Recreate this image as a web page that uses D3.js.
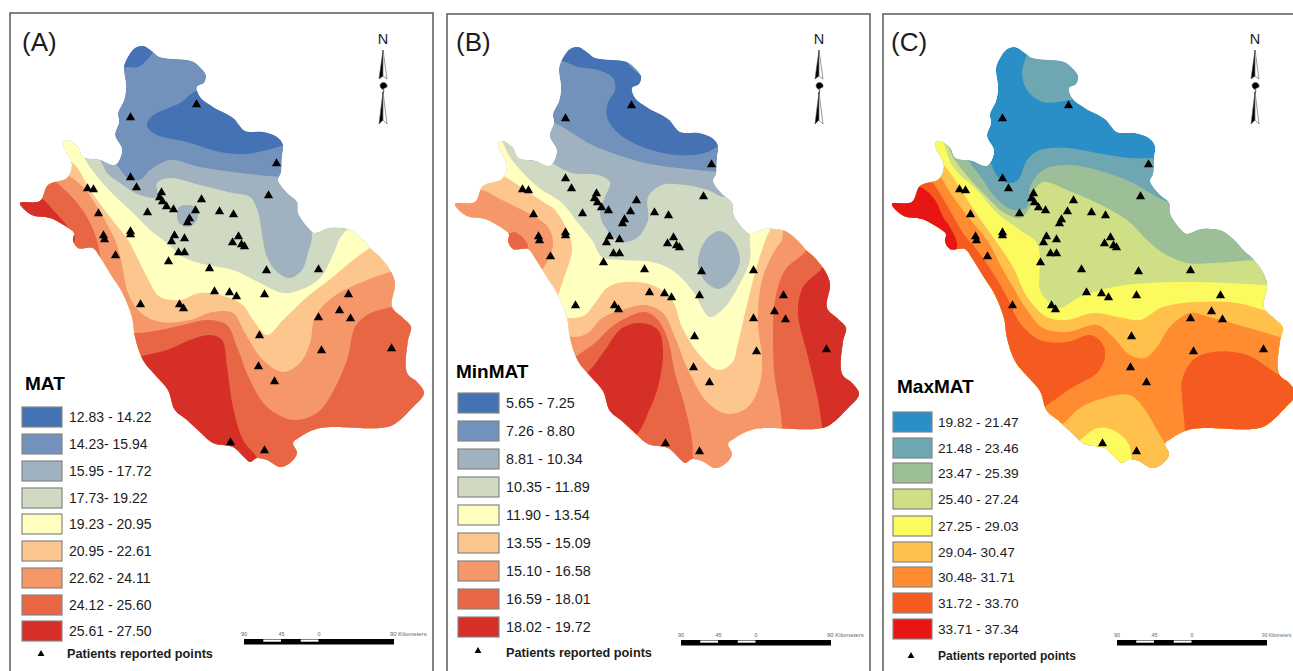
<!DOCTYPE html>
<html><head><meta charset="utf-8">
<script src="https://cdnjs.cloudflare.com/ajax/libs/d3/7.8.5/d3.min.js"></script>
<style>html,body{margin:0;padding:0;background:#fff}svg{display:block;font-family:"Liberation Sans",Arial,sans-serif}</style>
</head><body><svg id="c" width="1293" height="671"></svg>
<script>
const panelNames=["(A)","(B)","(C)"];
const legendTitles=["MAT","MinMAT","MaxMAT"];
const patientLabel="Patients reported points";
const labelsA=["12.83 - 14.22","14.23- 15.94","15.95 - 17.72","17.73- 19.22","19.23 - 20.95","20.95 - 22.61","22.62 - 24.11","24.12 - 25.60","25.61 - 27.50"];
const labelsB=["5.65 - 7.25","7.26 - 8.80","8.81 - 10.34","10.35 - 11.89","11.90 - 13.54","13.55 - 15.09","15.10 - 16.58","16.59 - 18.01","18.02 - 19.72"];
const labelsC=["19.82 - 21.47","21.48 - 23.46","23.47 - 25.39","25.40 - 27.24","27.25 - 29.03","29.04- 30.47","30.48- 31.71","31.72 - 33.70","33.71 - 37.34"];
const coloursAB=["#4472b5","#7392bb","#a0b2bf","#d0d9c2","#ffffc0","#fdc68f","#f59768","#e96645","#d62f27"];
const coloursC=["#2a8fc6","#6ea7b2","#9dbf98","#cfdf85","#fbfb60","#ffc04c","#ff8c30","#f55a20","#e81515"];
const scaleTicks=["90","45","0","90 Kilometers"];

const outline=[[143,46],[153,52],[160,57],[192,61],[200,67],[206,75],[204,83],[197,87],[200,97],[213,107],[233,118],[245,131],[263,132],[277,137],[283,145],[282,157],[281,173],[278,180],[287,193],[297,202],[298,213],[310,230],[315,233],[330,228],[350,230],[363,240],[372,250],[380,257],[390,270],[395,283],[392,307],[403,318],[411,327],[408,340],[407,373],[417,382],[424,393],[413,407],[393,425],[380,428],[320,428],[300,437],[293,443],[297,453],[290,463],[280,467],[267,460],[257,458],[250,462],[245,458],[233,447],[213,443],[200,432],[187,420],[175,410],[168,390],[157,377],[143,360],[135,337],[132,317],[122,292],[113,278],[100,257],[93,248],[78,248],[73,240],[74,233],[67,227],[50,218],[32,215],[20,203],[40,201],[48,185],[67,178],[72,165],[63,143],[67,140],[78,147],[83,157],[100,160],[115,165],[122,150],[115,135],[119,122],[118,113],[124,100],[126,87],[124,67],[128,57],[135,48]];

const patientPoints=[[196,104],[130,117],[276,163],[130,177],[136,187],[87,188],[93,189],[161,192],[159,197],[162,201],[166,206],[173,209],[201,199],[195,210],[219,211],[233,214],[268,195],[147,212],[98,213],[189,218],[187,222],[103,235],[104,239],[130,231],[130,234],[174,235],[171,241],[184,238],[238,236],[232,242],[241,244],[244,246],[115,255],[178,252],[184,252],[168,261],[209,268],[266,270],[318,269],[214,291],[229,292],[236,296],[264,294],[348,294],[339,310],[350,318],[318,317],[140,304],[179,304],[183,308],[259,335],[321,350],[391,348],[258,366],[274,381],[230,442],[264,450]];

// Panel A contour zones, back to front
const aKnob=[[110,68],[128,67],[138,67],[147,60],[153,52],[165,30],[115,25]];
const aBlob=[[147,126],[150,118],[157,113],[180,103],[197,91],[210,98],[235,112],[250,122],[295,130],[298,148],[283,146],[267,150],[247,154],[220,152],[187,142],[157,135]];
const aC3=[[0,120],[100,150],[115,163],[128,178],[140,180],[150,170],[170,160],[200,167],[233,172],[280,177],[320,178],[440,300],[440,490],[60,490],[0,300]];
const aC4=[[0,120],[83,145],[100,160],[107,173],[120,183],[140,195],[157,197],[157,183],[170,178],[200,185],[233,193],[250,197],[258,212],[263,240],[267,257],[277,272],[290,278],[302,270],[308,253],[312,237],[312,222],[330,215],[440,230],[440,490],[60,490],[0,300]];
const aBubble=[[187,205],[195,207],[198,215],[195,223],[187,227],[179,223],[177,215],[179,207]];
const aC5=[[20,140],[60,125],[80,140],[84,157],[100,180],[117,198],[133,213],[150,230],[167,243],[183,257],[207,265],[233,270],[260,283],[283,293],[300,290],[320,278],[335,250],[340,238],[352,226],[375,215],[440,230],[440,490],[60,490],[0,300]];
const aC6=[[0,165],[50,155],[73,163],[90,190],[110,217],[128,240],[137,257],[147,277],[160,297],[180,300],[200,293],[227,297],[243,305],[253,320],[267,335],[283,320],[307,297],[333,277],[353,260],[370,248],[385,240],[440,240],[440,490],[60,490],[0,300]];
const aC7=[[0,170],[40,165],[62,172],[83,187],[103,217],[117,245],[123,270],[128,293],[140,312],[160,322],[190,320],[213,312],[233,313],[245,333],[263,360],[283,372],[300,363],[310,343],[315,317],[333,297],[367,280],[390,272],[440,260],[440,490],[60,490],[0,300]];
const aC8=[[0,175],[30,170],[50,178],[72,197],[87,217],[97,240],[100,255],[105,290],[125,330],[137,333],[160,330],[183,325],[207,320],[227,325],[237,347],[250,380],[267,407],[293,420],[317,413],[330,397],[347,360],[355,327],[367,315],[392,307],[440,300],[440,490],[60,490],[0,300]];
const aC9w=[[5,195],[42,199],[53,210],[68,227],[75,240],[60,255],[5,225]];
const aC9s=[[120,362],[142,356],[167,350],[190,340],[210,335],[222,340],[227,367],[233,407],[243,440],[257,458],[262,480],[200,480],[120,410]];

// Panel B contour zones
const bC1=[[100,50],[131,61],[143,66],[163,69],[178,77],[180,89],[173,102],[172,116],[183,132],[210,147],[243,154],[270,152],[285,144],[310,130],[200,70],[165,25],[110,30]];
const bC3=[[90,115],[120,122],[137,132],[157,144],[183,154],[210,162],[243,167],[283,171],[320,175],[440,300],[440,490],[60,490],[0,300],[0,120]];
const bC4=[[0,120],[100,150],[117,162],[137,172],[163,174],[175,181],[170,196],[165,212],[170,226],[187,241],[203,236],[213,219],[213,196],[227,184],[250,184],[273,189],[288,196],[320,195],[440,230],[440,490],[60,490],[0,300]];
const bEll=[[284,230],[297,238],[305,259],[298,277],[284,288],[270,280],[263,262],[270,240]];
const bC5=[[10,130],[60,125],[68,142],[77,159],[103,186],[127,202],[143,222],[157,239],[167,256],[187,259],[217,261],[237,269],[257,289],[275,316],[290,306],[303,286],[315,259],[315,235],[320,215],[400,215],[440,260],[440,490],[60,490],[0,300]];
const bC6=[[0,170],[50,165],[72,177],[90,189],[110,202],[120,209],[135,236],[137,250],[135,259],[125,289],[120,310],[133,317],[150,314],[160,302],[173,286],[190,281],[217,284],[237,299],[247,326],[263,352],[283,369],[297,362],[303,342],[310,312],[320,272],[327,249],[335,229],[350,210],[440,230],[440,490],[60,490],[0,300]];
const bC7=[[0,185],[47,189],[67,199],[93,212],[113,226],[118,242],[113,259],[105,275],[115,325],[137,336],[153,332],[167,317],[187,309],[210,304],[228,312],[240,336],[253,369],[273,402],[293,413],[313,406],[325,382],[327,356],[323,322],[327,279],[340,249],[347,239],[350,222],[370,215],[440,240],[440,490],[60,490],[0,300]];
const bC8w=[[60,232],[75,232],[80,231],[90,239],[93,247],[87,253],[70,262]];
const bC8s=[[110,375],[143,354],[160,342],[173,329],[187,319],[210,311],[223,319],[233,339],[240,372],[250,406],[257,439],[258,459],[260,490],[150,490]];
const bC8e=[[347,450],[347,427],[345,406],[340,379],[338,339],[340,299],[350,269],[372,247],[365,220],[440,250],[440,450]];
const bC9s=[[130,385],[153,371],[170,349],[187,327],[207,322],[223,329],[228,349],[223,386],[213,412],[203,432],[180,450],[130,420]];
const bC9e=[[387,450],[387,427],[383,399],[373,356],[363,312],[368,286],[387,267],[395,250],[440,280],[440,450]];

// Panel C contour zones
const cC2n=[[157,30],[155,52],[150,72],[155,89],[171,101],[198,99],[240,90],[240,40]];
const cC2=[[0,120],[100,135],[118,161],[126,176],[136,182],[146,179],[155,159],[168,149],[195,147],[225,152],[258,157],[283,157],[320,157],[440,300],[440,490],[60,490],[0,300]];
const cC3=[[0,120],[85,140],[96,159],[111,179],[123,196],[141,209],[155,206],[158,186],[171,169],[198,164],[235,172],[261,182],[285,196],[298,202],[320,210],[440,250],[440,490],[60,490],[0,300]];
const cC4=[[0,120],[70,135],[81,156],[96,176],[115,196],[131,211],[148,217],[158,206],[161,192],[171,181],[195,189],[225,202],[255,219],[275,239],[291,252],[315,262],[341,262],[383,259],[440,255],[440,490],[60,490],[0,300]];
const cC5=[[20,130],[60,125],[71,141],[81,166],[105,189],[125,212],[148,229],[165,242],[168,259],[168,289],[178,302],[188,307],[208,296],[241,286],[275,282],[328,281],[395,284],[440,285],[440,490],[60,490],[0,300]];
const cC6=[[0,165],[60,155],[76,169],[91,192],[111,222],[123,239],[141,266],[155,296],[175,316],[195,319],[221,312],[251,317],[268,319],[291,306],[325,301],[365,302],[408,314],[440,320],[440,490],[60,490],[0,300]];
const cC7=[[0,170],[50,165],[65,172],[81,196],[101,222],[115,239],[131,269],[141,286],[155,309],[171,327],[195,331],[225,324],[241,336],[258,354],[273,357],[285,346],[298,326],[318,312],[341,317],[408,336],[440,345],[440,490],[60,490],[0,300]];
const cC6s=[[165,445],[193,421],[208,407],[235,396],[258,394],[271,406],[285,429],[296,449],[310,490],[180,490]];
const cC5s=[[185,455],[208,439],[225,427],[241,429],[256,442],[260,459],[265,490],[200,490]];
const cC8w=[[0,175],[40,170],[58,179],[76,206],[91,232],[105,249],[121,272],[135,296],[148,322],[168,339],[195,341],[218,334],[230,342],[233,356],[225,372],[201,386],[178,402],[150,420],[80,400]];
const cC8e=[[313,450],[313,429],[310,396],[310,379],[321,359],[341,351],[375,354],[408,374],[445,385],[445,440]];
const cC9=[[5,185],[48,186],[63,199],[71,216],[78,226],[85,246],[70,262],[5,225]];

const panels=[
 {name:panelNames[0],title:legendTitles[0],labels:labelsA,colours:coloursAB,base:1,
  zones:[[0,aKnob],[0,aBlob],[2,aC3],[3,aC4],[2,aBubble],[4,aC5],[5,aC6],[6,aC7],[7,aC8],[8,aC9w],[8,aC9s]],
  dx:0,dy:0,frame:[10,433,13],labelX:22,titleX:25,titleY:390,titleSize:19,swX:22,swW:40,swTops:[407,434,461,488,514,541,568,595,621],txtX:69,txtSize:14,patX:67,patY:658,patSize:12.7,patTri:[41,654],barX:244,barY:639,northX:383,kmX:390,kmSize:6},
 {name:panelNames[1],title:legendTitles[1],labels:labelsB,colours:coloursAB,base:1,
  zones:[[0,bC1],[2,bC3],[3,bC4],[2,bEll],[4,bC5],[5,bC6],[6,bC7],[7,bC8w],[7,bC8s],[7,bC8e],[8,bC9s],[8,bC9e]],
  dx:435,dy:1,frame:[447,870,14],labelX:456,titleX:456,titleY:378,titleSize:19,swX:458,swW:41,swTops:[393,421,449,477,505,533,561,589,617],txtX:506,txtSize:14.4,patX:506,patY:657,patSize:12.7,patTri:[478,651],barX:681,barY:640,northX:819,kmX:827,kmSize:6},
 {name:panelNames[2],title:legendTitles[2],labels:labelsC,colours:coloursC,base:0,
  zones:[[1,cC2n],[1,cC2],[2,cC3],[3,cC4],[4,cC5],[5,cC6],[6,cC7],[5,cC6s],[4,cC5s],[7,cC8w],[7,cC8e],[8,cC9]],
  dx:872,dy:1,frame:[883,1300,14],labelX:891,titleX:897,titleY:393,titleSize:19,swX:893,swW:39,swTops:[412,438,463,489,516,542,567,593,619],txtX:938,txtSize:13.7,patX:938,patY:660,patSize:12,patTri:[911,656],barX:1117,barY:640,northX:1255,kmX:1262,kmSize:4.8}
];

const svg=d3.select("#c");
const defs=svg.append("defs");
const ink="#1c1c1c";
panels.forEach((p,pi)=>{
  const x=d3.scaleLinear().domain([0,424]).range([p.dx,p.dx+424]);
  const y=d3.scaleLinear().domain([0,480]).range([p.dy,p.dy+480]);
  const g=svg.append("g");
  const smooth=d3.line().x(d=>x(d[0])).y(d=>y(d[1])).curve(d3.curveCatmullRomClosed.alpha(0.5));
  defs.append("clipPath").attr("id","clip"+pi).append("path").attr("d",smooth(outline));
  const map=g.append("g").attr("clip-path",`url(#clip${pi})`);
  map.append("path").attr("d",smooth(outline)).attr("fill",p.colours[p.base]);
  map.selectAll("path.z").data(p.zones).join("path").attr("class","z")
     .attr("d",d=>smooth(d[1])).attr("fill",d=>p.colours[d[0]]);
  const tri=d3.symbol().type(d3.symbolTriangle).size(37);
  g.selectAll("path.pt").data(patientPoints).join("path").attr("class","pt")
    .attr("transform",d=>`translate(${x(d[0])+.5},${y(d[1])+.5})`).attr("d",tri()).attr("fill","#000");
  g.append("path").attr("d",`M${p.frame[0]},680V${p.frame[2]}H${p.frame[1]}V680`).attr("fill","none").attr("stroke","#5a5a5a").attr("stroke-width",1.5);
  g.append("text").attr("x",p.labelX).attr("y",51).attr("font-size",26).attr("fill",ink).text(p.name);
  const nx=p.northX;
  g.append("text").attr("x",nx).attr("y",44).attr("text-anchor","middle").attr("font-size",14.5).attr("fill",ink).text("N");
  const arrow=[
    {d:`M${nx},50L${nx-4},79L${nx},76Z`,f:"#000"},
    {d:`M${nx},50L${nx+4},79L${nx},76Z`,f:"#fff"},
    {d:`M${nx-3},85C${nx-1},80 ${nx+5},83 ${nx+4},87L${nx},89C${nx+2},91 ${nx},94 ${nx-1},94L${nx+1},90C${nx-2},89 ${nx-3},87 ${nx-3},85Z`,f:"#000"},
    {d:`M${nx},92L${nx-4},124L${nx},120Z`,f:"#000"},
    {d:`M${nx},92L${nx+4},124L${nx},120Z`,f:"#fff"}
  ];
  g.selectAll("path.na").data(arrow).join("path").attr("class","na").attr("d",d=>d.d).attr("fill",d=>d.f).attr("stroke","#555").attr("stroke-width",0.6);
  g.append("text").attr("x",p.titleX).attr("y",p.titleY).attr("font-size",p.titleSize).attr("font-weight","bold").attr("fill","#000").text(p.title);
  const h=20;
  g.selectAll("rect.sw").data(p.labels).join("rect").attr("class","sw").attr("x",p.swX).attr("width",p.swW)
    .attr("y",(d,i)=>p.swTops[i]).attr("height",h).attr("fill",(d,i)=>p.colours[i]).attr("stroke","#858585").attr("stroke-width",1.2);
  g.selectAll("text.lb").data(p.labels).join("text").attr("class","lb").attr("x",p.txtX)
    .attr("y",(d,i)=>p.swTops[i]+h/2+5).attr("font-size",p.txtSize).attr("fill",ink).text(d=>d);
  g.append("path").attr("transform",`translate(${p.patTri[0]},${p.patTri[1]})`).attr("d",d3.symbol().type(d3.symbolTriangle).size(20)()).attr("fill","#000");
  g.append("text").attr("x",p.patX).attr("y",p.patY).attr("font-size",p.patSize).attr("font-weight","bold").attr("fill",ink).text(patientLabel);
  const km=d3.scaleLinear().domain([-90,90]).range([p.barX,p.barX+150]);
  g.append("rect").attr("x",km(-90)).attr("y",p.barY).attr("width",km(90)-km(-90)).attr("height",5.5).attr("fill","#000");
  [[-67.5,-45],[-22.5,0]].forEach(s=>g.append("rect").attr("x",km(s[0])+.5).attr("y",p.barY+.5).attr("width",km(s[1])-km(s[0])-1).attr("height",2.2).attr("fill","#fff"));
  [-90,-45,0].forEach((v,i)=>g.append("text").attr("x",km(v)).attr("y",p.barY-3).attr("text-anchor","middle").attr("font-size",5.5).attr("fill","#666").text(scaleTicks[i]));
  g.append("text").attr("x",p.kmX).attr("y",p.barY-3).attr("font-size",p.kmSize).attr("fill","#666").text(scaleTicks[3]);
});
</script></body></html>
